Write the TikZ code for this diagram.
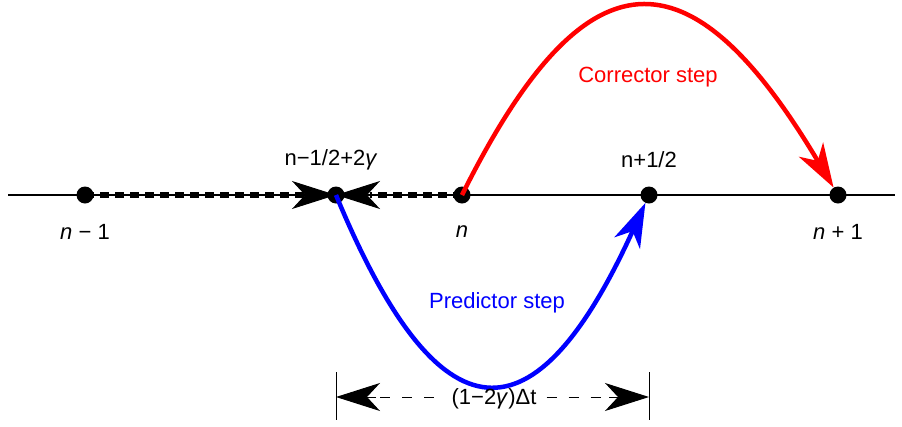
\documentclass[tikz,border=0pt]{standalone}
\usepackage{fontspec}
\setmainfont{Liberation Sans}
\usetikzlibrary{arrows.meta}
\definecolor{myred}{RGB}{255,0,0}
\definecolor{myblue}{RGB}{0,0,255}
\tikzset{
  dot/.style={circle,fill=black,inner sep=0pt,minimum size=17pt},
  lbl/.style={font=\fontsize{22}{26}\selectfont,inner sep=0pt},
  mtip/.style={-{Stealth[length=44pt,width=28pt,inset=13pt]}},
  axisdash/.style={line width=5.5pt,dash pattern=on 9pt off 6pt},
  stepcurve/.style={line width=4.5pt},
}
\begin{document}
\begin{tikzpicture}[x=1pt,y=-1pt]
\useasboundingbox (0,0) rectangle (902,426);
% axis
\coordinate (axl) at (8,195);
\coordinate (axr) at (895,195);
\draw[line width=1.6pt] (axl) -- (axr);
% points
\node[dot] (nm1) at (85,195) {};
\node[dot] (mid) at (336,195) {};
\node[dot] (n) at (462,195) {};
\node[dot] (nh) at (649,195) {};
\node[dot] (np1) at (838,195) {};
% dashed axis arrows
\draw[axisdash] (nm1.center) -- (304,195);
\draw[line width=1pt,mtip] (296,195) -- (mid.center);
\draw[axisdash] (n.center) -- (370,195);
\draw[line width=1pt,mtip] (376,195) -- (mid.center);
% corrector
\draw[stepcurve,myred,mtip] (n.center) .. controls (586,-54) and (690,-54) .. (np1);
% predictor
\draw[stepcurve,myblue,mtip] (mid.center) .. controls (440,446) and (535,446) .. (nh);
% labels
\node[lbl,text=myred] (lc) at (648,77) {Corrector step};
\node[lbl,text=myblue] (lp) at (497,303) {Predictor step};
\node[lbl] (lmid) at (331,160) {n−1/2+2\textit{γ}};
\node[lbl] (lnh) at (649,160) {n+1/2};
\node[lbl] (lnm1) at (85,232) {\textit{n} − 1};
\node[lbl] (ln) at (462,232) {\textit{n}};
\node[lbl] (lnp1) at (838,232) {\textit{n} + 1};
% bottom dimension
\coordinate (bl1) at (336,372);
\coordinate (bl2) at (336,420);
\coordinate (br1) at (649,372);
\coordinate (br2) at (649,420);
\draw[line width=0.9pt] (bl1) -- (bl2);
\draw[line width=0.9pt] (br1) -- (br2);
\node[lbl] (ldt) at (494,399) {(1−2\textit{γ})Δt};
\coordinate (al) at (336,397);
\coordinate (ar) at (649,397);
\draw[line width=0.9pt,dash pattern=on 10pt off 12pt] (380,397) -- ([xshift=-8pt]ldt.west|-al);
\draw[line width=0.9pt,dash pattern=on 10pt off 12pt] ([xshift=10pt]ldt.east|-al) -- (608,397);
\draw[line width=1pt,mtip] (376,397) -- (al);
\draw[line width=1pt,mtip] (609,397) -- (ar);
\end{tikzpicture}
\end{document}
